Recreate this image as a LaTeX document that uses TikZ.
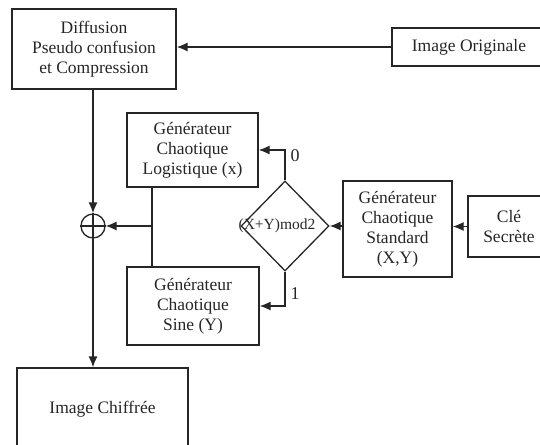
\documentclass[tikz,border=0pt]{standalone}
\usepackage{fontspec}
\setmainfont{Liberation Serif}
\usetikzlibrary{arrows.meta,shapes.geometric}
\definecolor{ink}{HTML}{262626}
\begin{document}
\begin{tikzpicture}[x=1pt,y=-1pt,
 every node/.style={text=ink},
 box/.style={draw=ink, line width=1.3pt, align=center, inner sep=0pt, font=\fontsize{17.5}{20}\selectfont},
 arr/.style={draw=ink, -{Latex[length=11pt,width=9pt]}, line width=1.3pt},
 ln/.style={draw=ink, line width=1.3pt},
 lbl/.style={font=\fontsize{18}{20}\selectfont, inner sep=0pt}]
\useasboundingbox (0,0) rectangle (540,444);
\node[box, minimum width=164, minimum height=80] (diff) at (94,49) {Diffusion\\Pseudo confusion\\et Compression};
\node[box, minimum width=154, minimum height=38] (orig) at (469,47) {Image Originale};
\node[box, minimum width=131, minimum height=74] (logi) at (192.5,150) {Générateur\\Chaotique\\Logistique (x)};
\node[box, minimum width=132, minimum height=78] (sine) at (193,306) {Générateur\\Chaotique\\Sine (Y)};
\node[diamond, draw=ink, line width=1.3pt, minimum width=88, minimum height=90, inner sep=0pt] (dia) at (285,226) {};
\node[font=\fontsize{15.5}{17}\selectfont, inner sep=0pt] (diat) at (277,226) {(X+Y)mod2};
\node[box, minimum width=109, minimum height=96] (stand) at (397.5,229) {Générateur\\Chaotique\\Standard\\(X,Y)};
\node[box, minimum width=82, minimum height=61] (cle) at (509,226.5) {Clé\\Secrète};
\node[circle, draw=ink, line width=1.3pt, minimum size=24, inner sep=0pt] (xor) at (93,226) {};
\draw[ln] (xor.north) -- (xor.south);
\draw[ln] (xor.west) -- (xor.east);
\node[box, minimum width=171, minimum height=82] (chif) at (102.5,409) {Image Chiffrée};
\coordinate (j) at (152,226);
% connectors
\draw[arr] (orig.west) -- (orig.west -| diff.east);
\draw[arr] (diff.south -| xor) -- (xor.north);
\draw[arr] (xor.south) -- (xor.south |- chif.north);
\draw[ln] (logi.south -| j) -- (sine.north -| j);
\draw[arr] (j) -- (xor.east);
\draw[arr] (dia.north) |- (logi.east);
\draw[arr] (dia.south) |- (sine.east);
\draw[arr] (dia.east -| stand.west) -- (dia.east);
\draw[arr] (cle.west) -- (cle.west -| stand.east);
\node[lbl] (l0) at (295,156) {0};
\node[lbl] (l1) at (295,294) {1};
\end{tikzpicture}
\end{document}
